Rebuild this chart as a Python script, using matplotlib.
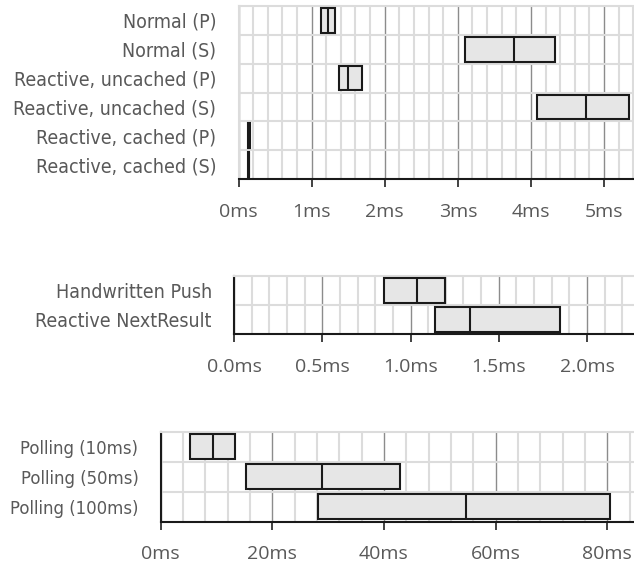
import matplotlib
matplotlib.use("Agg")
import matplotlib.pyplot as plt
from matplotlib import font_manager
from matplotlib.font_manager import FontProperties
from matplotlib.ticker import MultipleLocator, FuncFormatter

# --- data: box = (q1, median, q3) in ms -------------------------------------
render_labels = ["Normal (P)", "Normal (S)", "Reactive, uncached (P)",
                 "Reactive, uncached (S)", "Reactive, cached (P)", "Reactive, cached (S)"]
render_q1 = [1.13, 3.10, 1.37, 4.085, 0.135, 0.13]
render_med = [1.225, 3.775, 1.50, 4.76, 0.145, 0.14]
render_q3 = [1.32, 4.335, 1.695, 5.345, 0.155, 0.15]

push_labels = ["Handwritten Push", "Reactive NextResult"]
push_q1 = [0.847, 1.14]
push_med = [1.039, 1.336]
push_q3 = [1.195, 1.844]

poll_labels = ["Polling (10ms)", "Polling (50ms)", "Polling (100ms)"]
poll_q1 = [5.3, 15.2, 28.2]
poll_med = [9.3, 28.9, 54.7]
poll_q3 = [13.4, 42.8, 80.5]

# condensed face for the row labels, if one is installed
cond = [f for f in font_manager.fontManager.ttflist
        if f.style == "normal" and f.weight in (400, "normal")
        and ("Narrow" in f.name or "ondensed" in str(f.stretch) or "Condensed" in f.fname)]


def label_props(size):
    if cond:
        return FontProperties(fname=cond[0].fname, size=size)
    return FontProperties(family="Liberation Sans", size=size - 1)


TICK_FONT = "Open Sans"
TXT = "#595959"

fig = plt.figure(figsize=(6.34, 5.66), dpi=100)


def panel(rect, labels, q1, med, q3, xmax, major, minor, fmt, left_color, lsize):
    ax = fig.add_axes(rect)
    n = len(labels)
    ys = list(range(n))
    widths = [b - a for a, b in zip(q1, q3)]
    ax.barh(ys, widths, left=q1, height=0.85, color="#e6e6e6",
            edgecolor="#1a1a1a", linewidth=1.5, zorder=3)
    ax.vlines(med, [y - 0.425 for y in ys], [y + 0.425 for y in ys],
              color="#1a1a1a", linewidth=1.5, zorder=4)
    ax.set_xlim(0, xmax)
    ax.set_ylim(n - 0.5, -0.5)
    ax.set_yticks(ys)
    ax.set_yticklabels(labels, color=TXT, fontproperties=label_props(lsize))
    ax.set_yticks([y + 0.5 for y in ys[:-1]], minor=True)
    ax.xaxis.set_major_locator(MultipleLocator(major))
    ax.xaxis.set_minor_locator(MultipleLocator(minor))
    ax.xaxis.set_major_formatter(FuncFormatter(lambda v, p: fmt.format(v)))
    for t in ax.get_xticklabels():
        t.set_family(TICK_FONT)
    ax.tick_params(axis="x", which="major", length=6, width=1.3, color="#333333",
                   labelsize=14, labelcolor=TXT, pad=11)
    ax.tick_params(axis="x", which="minor", length=0)
    ax.tick_params(axis="y", which="both", length=0, pad=16)
    ax.grid(axis="x", which="major", color="#8c8c8c", linewidth=1.0, zorder=1)
    ax.grid(axis="x", which="minor", color="#dcdcdc", linewidth=1.5, zorder=0)
    ax.grid(axis="y", which="minor", color="#dcdcdc", linewidth=1.5, zorder=0)
    ax.set_axisbelow(True)
    ax.spines["right"].set_visible(False)
    ax.spines["top"].set_color("#dcdcdc")
    ax.spines["top"].set_linewidth(1.5)
    ax.spines["left"].set_color(left_color)
    ax.spines["left"].set_linewidth(1.5)
    ax.spines["bottom"].set_color("#1a1a1a")
    ax.spines["bottom"].set_linewidth(1.5)
    return ax


panel([238.5 / 634, 387 / 566, 395.5 / 634, 173 / 566], render_labels,
      render_q1, render_med, render_q3, 5.41, 1, 0.2, "{:.0f}ms", "#dcdcdc", 14)
panel([234 / 634, 232 / 566, 400 / 634, 58.3 / 566], push_labels,
      push_q1, push_med, push_q3, 2.266, 0.5, 0.1, "{:.1f}ms", "#1a1a1a", 14)
panel([160.7 / 634, 44.3 / 566, 473.3 / 634, 90 / 566], poll_labels,
      poll_q1, poll_med, poll_q3, 84.8, 20, 4, "{:.0f}ms", "#1a1a1a", 13.2)

fig.savefig("out.png", dpi=100)
